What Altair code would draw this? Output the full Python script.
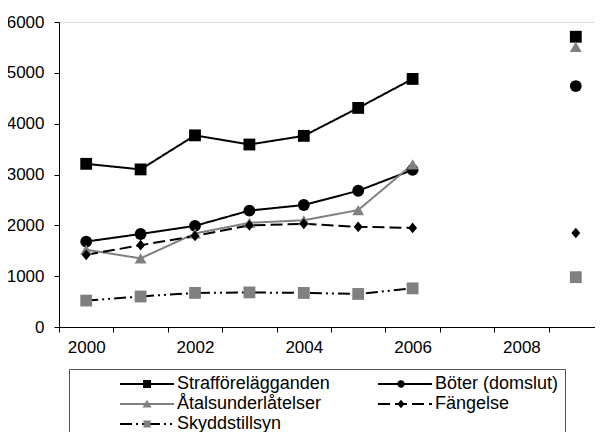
import altair as alt
import pandas as pd

years = [2000, 2001, 2002, 2003, 2004, 2005, 2006, 2009]
all_years = [2000, 2001, 2002, 2003, 2004, 2005, 2006, 2007, 2008, 2009]
series_names = ["Strafförelägganden", "Böter (domslut)", "Åtalsunderlåtelser", "Fängelse", "Skyddstillsyn"]
straff = [3210, 3100, 3770, 3590, 3760, 4310, 4880, 5710]
boter = [1680, 1830, 1990, 2290, 2400, 2680, 3090, 4740]
atal = [1520, 1350, 1840, 2050, 2100, 2300, 3200, 5510]
fangelse = [1420, 1610, 1790, 2000, 2030, 1970, 1950, 1850]
skydd = [520, 600, 670, 680, 670, 650, 760, 980]
y_ticks = [0, 1000, 2000, 3000, 4000, 5000, 6000]

# per-series styles (same order as series_names)
line_colors = ["#000000", "#000000", "#808080", "#000000", "#000000"]
marker_colors = ["#000000", "#000000", "#808080", "#000000", "#808080"]
dashes = [[1, 0], [1, 0], [1, 0], [12, 5], [12, 4, 2, 4, 2, 4]]
plot_shapes = ["square", "circle", "triangle-up", "M0,-0.9L0.75,0L0,0.9L-0.75,0Z", "square"]

# legend symbol paths (unit box, 3px per unit at symbol size 36)
ends = "M-3,0L-3,0M15,0L15,0"
legend_line = "M-3,0L15,0"
legend_marks = [
    ends + "M4.667,-1.333L7.333,-1.333L7.333,1.333L4.667,1.333Z",
    ends + "M4.767,0A1.233,1.233,0,1,0,7.233,0A1.233,1.233,0,1,0,4.767,0Z",
    ends + "M6,-1.4L7.5,1.2L4.5,1.2Z",
    ends + "M6,-1.4L7.2,0L6,1.4L4.8,0Z",
    ends + "M4.833,-1.167L7.167,-1.167L7.167,1.167L4.833,1.167Z",
]

# legend fills columns first: order the domain so it reads row by row
legend_order = [0, 2, 4, 1, 3]


def reorder(lst):
    return [lst[i] for i in legend_order]


dom = reorder(series_names)
dom_b = [n + " " for n in dom]

values = [straff, boter, atal, fangelse, skydd]
rows = []
for name, vals in zip(series_names, values):
    for yr, v in zip(years, vals):
        rows.append({"year": yr, "value": v, "series": name, "series_b": name + " "})
df = pd.DataFrame(rows)

FONT = "Liberation Sans"
nb = "\u00a0"
label_expr = ("trim(datum.label) == 'Böter (domslut)' ? trim(datum.label) + '"
              + nb * 3 + "' : trim(datum.label)")

common_leg = dict(
    orient="none", legendX=10, legendY=347, columns=2,
    title=".", titleOrient="left", titleFontSize=1, titleOpacity=0, titlePadding=44,
    symbolSize=36, labelFont=FONT, labelFontSize=18, labelColor="#000000",
    labelOffset=39, labelExpr=label_expr, labelLimit=400,
    columnPadding=44, rowPadding=2, padding=6,
)
legA = alt.Legend(symbolType=legend_line, symbolStrokeWidth=2,
                  strokeColor="#555555", **common_leg)
legB = alt.Legend(symbolStrokeWidth=0, symbolOpacity=1, labelOpacity=0, **common_leg)

x_enc = alt.X("year:O",
              scale=alt.Scale(type="band", domain=all_years, paddingInner=0, paddingOuter=0),
              axis=alt.Axis(title=None, labelAngle=0, tickBand="extent", tickSize=5,
                            labelExpr="datum.value % 2 == 0 ? datum.label : ''",
                            labelFont=FONT, labelFontSize=17, labelColor="#000000",
                            labelPadding=7, domainColor="#000000", tickColor="#000000",
                            grid=False))
y_enc = alt.Y("value:Q",
              scale=alt.Scale(domain=[0, 6000], nice=False),
              axis=alt.Axis(title=None, values=y_ticks, format="d", tickSize=5, labelFont=FONT,
                            labelFontSize=17, labelColor="#000000", labelPadding=10,
                            domainColor="#000000", tickColor="#000000", grid=False))

base = alt.Chart(df)

lines = base.transform_filter("datum.year <= 2006").mark_line(strokeWidth=2).encode(
    x=x_enc, y=y_enc,
    color=alt.Color("series:N", scale=alt.Scale(domain=dom, range=reorder(line_colors)), legend=legA),
    strokeDash=alt.StrokeDash("series:N", scale=alt.Scale(domain=dom, range=reorder(dashes)), legend=legA),
)

points = base.mark_point(filled=True, size=140, opacity=1, strokeWidth=0).encode(
    x=x_enc, y=y_enc,
    shape=alt.Shape("series:N", scale=alt.Scale(domain=series_names, range=plot_shapes), legend=None),
    fill=alt.Fill("series:N", scale=alt.Scale(domain=series_names, range=marker_colors), legend=None),
)

legend_marks_layer = base.transform_filter("false").mark_point(filled=True, opacity=1).encode(
    shape=alt.Shape("series_b:N", scale=alt.Scale(domain=dom_b, range=reorder(legend_marks)), legend=legB),
    fill=alt.Fill("series_b:N", scale=alt.Scale(domain=dom_b, range=reorder(marker_colors)), legend=legB),
)

chart = alt.layer(lines, points, legend_marks_layer).resolve_scale(
    shape="independent", fill="independent"
).properties(
    width=544, height=305,
    padding={"left": 51, "top": 14, "right": -8, "bottom": 105},
    autosize=alt.AutoSizeParams(type="none"),
    background="white",
).configure_view(stroke="#333333", strokeWidth=1.5).configure(font=FONT)

chart.save("out.html", embed_options={"renderer": "svg", "actions": False})
